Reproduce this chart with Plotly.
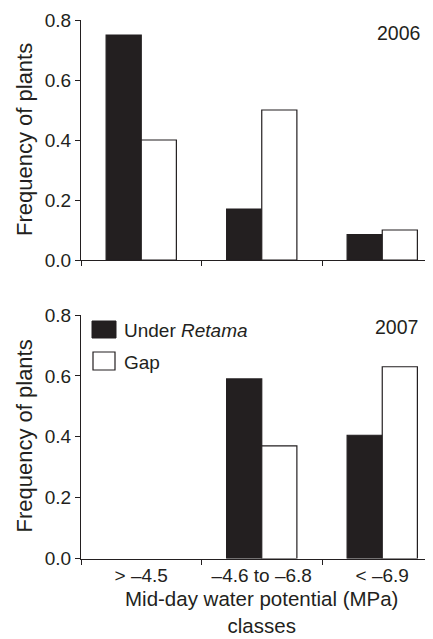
import plotly.graph_objects as go

categories = ["> \u20134.5", "\u20134.6 to \u20136.8", "< \u20136.9"]
under_2006 = [0.75, 0.17, 0.085]
gap_2006 = [0.40, 0.50, 0.10]
under_2007 = [0.0, 0.59, 0.405]
gap_2007 = [0.0, 0.37, 0.63]
yticks = [0.0, 0.2, 0.4, 0.6, 0.8]
ytick_text = ["0.0", "0.2", "0.4", "0.6", "0.8"]

OFF = 8  # page body margin of the browser
W, H = 433 - OFF, 639 - OFF
INK = "#231f20"
FONT = "Liberation Sans, Arial, Helvetica, sans-serif"

def px_x(v):
    return (v - OFF) / W

def px_y(v):
    return 1 - (v - OFF) / H

def outline(vals):
    # no outline on empty (zero-height) bars
    return dict(color=INK, width=[0 if v == 0 else 1.2 for v in vals])

fig = go.Figure()
fig.add_trace(go.Bar(x=categories, y=under_2006, marker=dict(color=INK, line=outline(under_2006)),
                     xaxis="x", yaxis="y", showlegend=False, name="Under Retama"))
fig.add_trace(go.Bar(x=categories, y=gap_2006, marker=dict(color="white", line=outline(gap_2006)),
                     xaxis="x", yaxis="y", showlegend=False, name="Gap"))
fig.add_trace(go.Bar(x=categories, y=under_2007, marker=dict(color=INK, line=outline(under_2007)),
                     xaxis="x2", yaxis="y2", showlegend=False, name="Under Retama"))
fig.add_trace(go.Bar(x=categories, y=gap_2007, marker=dict(color="white", line=outline(gap_2007)),
                     xaxis="x2", yaxis="y2", showlegend=False, name="Gap"))

xr = [-0.5, -0.5 + (433 - 81) / 120.5]
common_x = dict(type="category", range=xr, domain=[px_x(81), 1], showline=True,
                linecolor=INK, linewidth=1, ticks="outside", tickson="boundaries",
                ticklen=5, tickcolor=INK, tickwidth=1, showgrid=False, zeroline=False,
                automargin=False, fixedrange=True,
                tickfont=dict(family=FONT, size=19, color=INK))
common_y = dict(range=[0, 0.8], showline=True, linecolor=INK, linewidth=1,
                ticks="outside", ticklen=5, tickcolor=INK, tickwidth=1,
                tickvals=yticks, ticktext=ytick_text, showgrid=False, zeroline=False,
                automargin=False, tickfont=dict(family=FONT, size=19, color=INK))

fig.update_layout(
    width=W, height=H,
    margin=dict(l=0, r=0, t=0, b=0),
    paper_bgcolor="white", plot_bgcolor="white",
    barmode="group", bargap=0.417, bargroupgap=0,
    font=dict(family=FONT, color=INK),
    xaxis=dict(common_x, anchor="y", showticklabels=False),
    yaxis=dict(common_y, anchor="x", domain=[px_y(260), px_y(20)]),
    xaxis2=dict(common_x, anchor="y2", showticklabels=True),
    yaxis2=dict(common_y, anchor="x2", domain=[px_y(558.5), px_y(315)]),
    showlegend=False,
)

def note(text, x, y, size, xref="paper", xanchor="center", yanchor="middle", angle=0):
    return dict(text=text, x=x, y=y, xref=xref, yref="paper", showarrow=False,
                xanchor=xanchor, yanchor=yanchor, textangle=angle,
                font=dict(size=size, family=FONT, color=INK))

ann = [
    note("2006", px_x(398), px_y(33), 19.5),
    note("2007", px_x(396), px_y(327), 19.5),
    note("Frequency of plants", px_x(24), px_y(140), 22, angle=-90),
    note("Frequency of plants", px_x(24), px_y(436.5), 22, angle=-90),
    note("Mid-day water potential (MPa)<br>classes", 1, 0, 20.5, xref="x2",
         yanchor="bottom"),
    note("Under <i>Retama</i>", px_x(122), px_y(330), 19, xanchor="left"),
    note("Gap", px_x(122), px_y(362), 19, xanchor="left"),
]
fig.update_layout(annotations=ann)

fig.add_shape(type="rect", xref="paper", yref="paper", x0=px_x(92), x1=px_x(116),
              y0=px_y(338), y1=px_y(321), fillcolor=INK, line=dict(color=INK, width=1))
fig.add_shape(type="rect", xref="paper", yref="paper", x0=px_x(93), x1=px_x(115),
              y0=px_y(370), y1=px_y(352), fillcolor="white", line=dict(color=INK, width=1.2))

fig.write_html("out.html", config={"displayModeBar": False})
